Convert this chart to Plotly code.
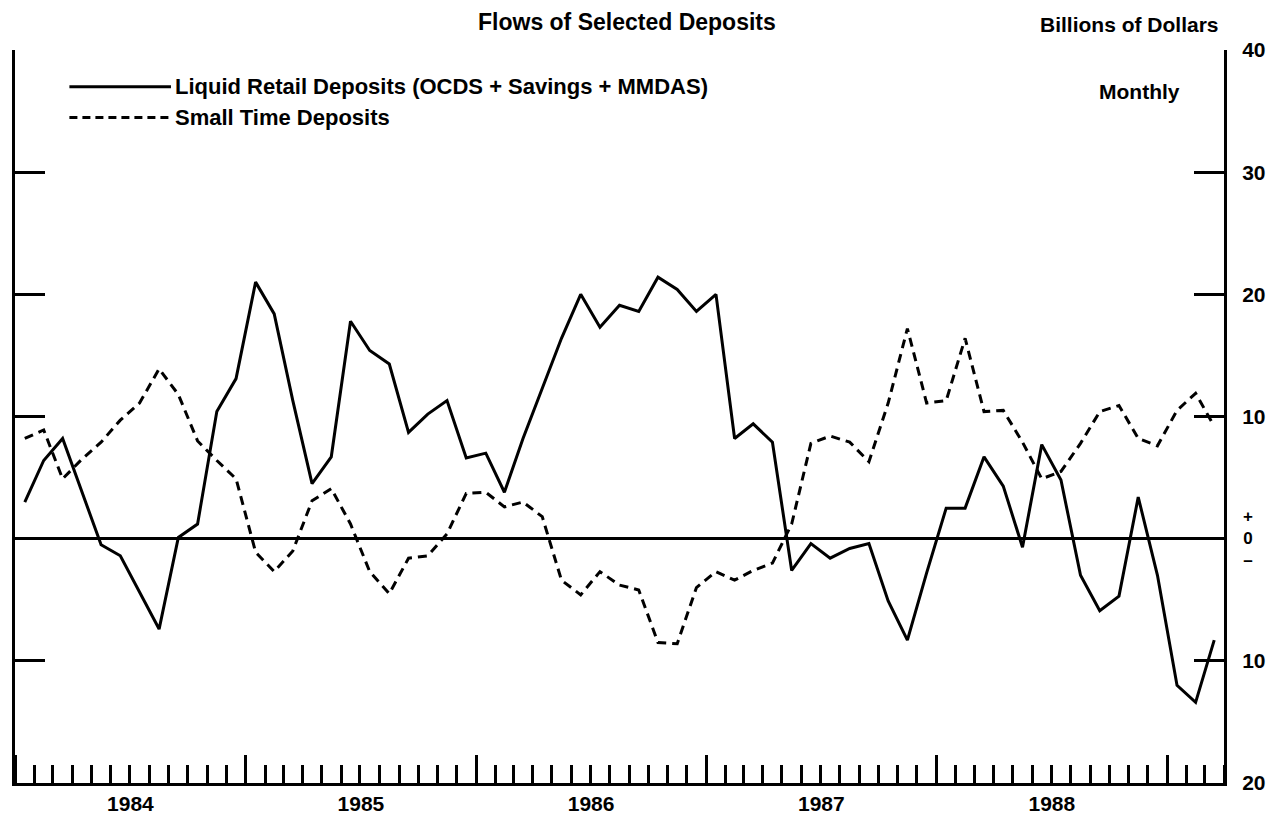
import pandas as pd
import plotly.graph_objects as go

months = pd.date_range("1984-01-01", periods=63, freq="MS")

liquid_retail = [3.0, 6.4, 8.2, 3.9, -0.5, -1.4, -4.4, -7.4, 0.1, 1.2, 10.4, 13.1,
                 21.0, 18.4, 11.3, 4.5, 6.7, 17.8, 15.4, 14.3, 8.7, 10.2, 11.3, 6.6,
                 7.0, 3.8, 8.2, 12.3, 16.4, 20.0, 17.3, 19.1, 18.6, 21.4, 20.4, 18.6,
                 20.0, 8.2, 9.4, 7.9, -2.6, -0.4, -1.6, -0.8, -0.4, -5.1, -8.3, -2.8,
                 2.5, 2.5, 6.7, 4.3, -0.7, 7.7, 4.8, -3.0, -5.9, -4.7, 3.4, -3.0,
                 -12.0, -13.4, -8.3]

small_time = [8.2, 8.9, 4.9, 6.5, 7.9, 9.7, 11.1, 13.9, 11.8, 8.0, 6.4, 4.9,
              -1.1, -2.7, -1.0, 3.1, 4.1, 1.2, -2.7, -4.5, -1.6, -1.4, 0.4, 3.7,
              3.8, 2.6, 3.0, 1.8, -3.4, -4.6, -2.7, -3.8, -4.2, -8.5, -8.6, -4.0,
              -2.7, -3.4, -2.6, -2.0, 1.2, 7.8, 8.4, 7.9, 6.3, 11.1, 17.2, 11.1,
              11.3, 16.4, 10.4, 10.5, 7.9, 4.9, 5.5, 7.8, 10.4, 10.9, 8.2, 7.6,
              10.5, 11.9, 9.2]

y_tickvals = [-20, -10, 0, 10, 20, 30, 40]
y_ticktext = ["20", "10", "", "10", "20", "30", "40"]

FONT = "Liberation Sans, Arial, Helvetica, sans-serif"

fig = go.Figure()
fig.add_trace(go.Scatter(x=months, y=liquid_retail, mode="lines",
                         xperiod="M1", xperiodalignment="middle",
                         line=dict(color="black", width=3),
                         name="Liquid Retail Deposits (OCDS + Savings + MMDAS)",
                         showlegend=False))
fig.add_trace(go.Scatter(x=months, y=small_time, mode="lines",
                         xperiod="M1", xperiodalignment="middle",
                         line=dict(color="black", width=3, dash="9px,6px"),
                         name="Small Time Deposits", showlegend=False))

fig.update_layout(
    width=1278, height=827,
    margin=dict(l=13, r=47, t=50, b=37),
    paper_bgcolor="white", plot_bgcolor="white",
    font=dict(family=FONT, size=21, color="black", weight="bold"),
    xaxis=dict(
        type="date",
        range=["1984-01-01", "1989-04-01"],
        dtick="M12", tick0="1984-01-01", tickformat="%Y",
        ticklabelmode="period",
        ticks="inside", ticklen=28, tickwidth=2.5, tickcolor="black",
        showline=True, linecolor="black", linewidth=3,
        showgrid=False, zeroline=False,
        minor=dict(dtick="M1", tick0="1984-01-01", ticks="inside", ticklen=18,
                   tickwidth=2.5, tickcolor="black", showgrid=False),
        tickfont=dict(size=21, weight="bold"),
    ),
    yaxis=dict(
        range=[-20, 40], side="right",
        tickvals=y_tickvals, ticktext=y_ticktext,
        ticks="inside", ticklen=30, tickwidth=3, tickcolor="black",
        showline=True, linecolor="black", linewidth=3, mirror="ticks",
        showgrid=False,
        zeroline=True, zerolinecolor="black", zerolinewidth=3,
        ticklabelstandoff=11,
        tickfont=dict(size=21, weight="bold"),
    ),
)

# legend samples
fig.add_shape(type="line", xref="paper", yref="paper", x0=0.045, x1=0.129, y0=0.950, y1=0.950,
              line=dict(color="black", width=3))
fig.add_shape(type="line", xref="paper", yref="paper", x0=0.045, x1=0.129, y0=0.908, y1=0.908,
              line=dict(color="black", width=3, dash="8px,5px"))
fig.add_annotation(xref="paper", yref="paper", x=0.1305, y=0.950, xanchor="left", yanchor="middle",
                   text="Liquid Retail Deposits (OCDS + Savings + MMDAS)", showarrow=False,
                   font=dict(size=22, weight="bold"))
fig.add_annotation(xref="paper", yref="paper", x=0.1305, y=0.908, xanchor="left", yanchor="middle",
                   text="Small Time Deposits", showarrow=False, font=dict(size=22, weight="bold"))
fig.add_annotation(xref="paper", yref="paper", x=0.930, y=0.943, xanchor="center", yanchor="middle",
                   text="Monthly", showarrow=False, font=dict(size=21, weight="bold"))
fig.add_annotation(xref="paper", yref="paper", x=0.5066, y=1.038, xanchor="center", yanchor="middle",
                   text="Flows of Selected Deposits", showarrow=False, font=dict(size=23, weight="bold"))
fig.add_annotation(xref="paper", yref="paper", x=0.9975, y=1.035, xanchor="right", yanchor="middle",
                   text="Billions of Dollars", showarrow=False, font=dict(size=21, weight="bold"))
# stacked "+ 0 -" label at the zero line
fig.add_annotation(xref="paper", yref="y", x=1.0, y=0, xanchor="center", yanchor="middle",
                   xshift=24, text="+<br>0<br>–", showarrow=False, align="center",
                   font=dict(size=17, weight="bold"))

fig.write_html("out.html", post_script="document.body.style.margin='0';",
               config={"displayModeBar": False})
